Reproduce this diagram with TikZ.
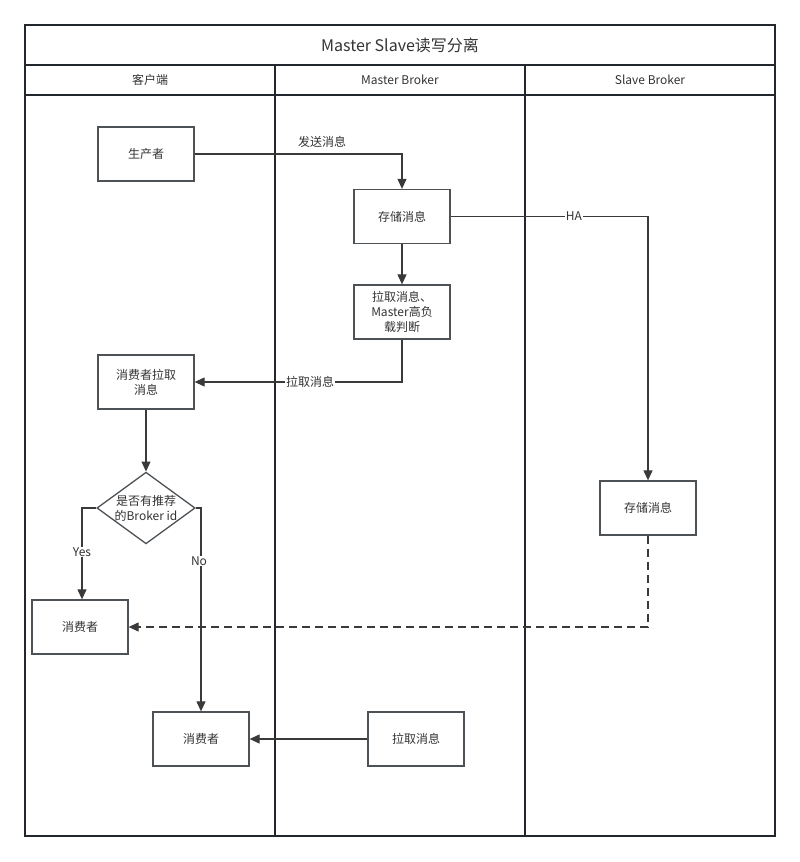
\documentclass[tikz,border=0pt]{standalone}
\usepackage{fontspec}
\setmainfont{Noto Sans CJK SC}
\usetikzlibrary{arrows.meta,shapes.geometric}
\definecolor{lane}{HTML}{22272E}
\definecolor{boxc}{HTML}{4D5257}
\definecolor{linec}{HTML}{3A3A3A}
\definecolor{txt}{HTML}{333333}
\begin{document}
\begin{tikzpicture}[x=1pt,y=-1pt,
  lanes/.style={draw=lane,line width=1.6pt},
  box/.style={draw=boxc,line width=1.3pt,minimum width=96pt,minimum height=54pt,inner sep=2pt,align=center,text=txt,font=\fontsize{12}{15}\selectfont},
  dec/.style={draw=boxc,line width=1.3pt,diamond,minimum width=96pt,minimum height=70pt,aspect=1.37,inner sep=0pt,align=center,text=txt,font=\fontsize{12}{15}\selectfont},
  conn/.style={draw=linec,line width=1.1pt,-{Triangle[length=10pt,width=9pt]}},
  lbl/.style={fill=white,inner sep=1pt,text=txt,font=\fontsize{12}{15}\selectfont},
  hdr/.style={text=txt,font=\fontsize{12}{15}\selectfont}]
\useasboundingbox (0,0) rectangle (800,862);
% swimlane frame
\draw[lanes] (25,25) rectangle (775,836);
\draw[lanes] (25,65) -- (775,65);
\draw[lanes] (25,95) -- (775,95);
\draw[lanes] (275,65) -- (275,836);
\draw[lanes] (525,65) -- (525,836);
\node[text=txt,font=\fontsize{16}{19}\selectfont] (title) at (400,45) {Master Slave读写分离};
\node[hdr] (h1) at (150,80) {客户端};
\node[hdr] (h2) at (400,80) {Master Broker};
\node[hdr] (h3) at (650,80) {Slave Broker};
% nodes
\node[box] (prod) at (146,154) {生产者};
\node[box] (store) at (402,216.5) {存储消息};
\node[box] (pullj) at (402,312) {拉取消息、\\Master高负\\载判断};
\node[box] (cpull) at (146,382) {消费者拉取\\消息};
\node[dec] (dq) at (146,508) {是否有推荐\\的Broker id};
\node[box] (c1) at (80,627) {消费者};
\node[box] (c2) at (201,739) {消费者};
\node[box] (mpull) at (416,739) {拉取消息};
\node[box] (sstore) at (648,508) {存储消息};
% connectors
\draw[conn] (prod.east) -| (store.north);
\node[lbl,fill=none] (l1) at (322,142) {发送消息};
\draw[conn] (store) -- (pullj);
\draw[conn] (store.east) -| (sstore.north);
\node[lbl] (l2) at (574,216.5) {HA};
\draw[conn] (pullj.south) |- (cpull.east);
\node[lbl] (l3) at (310,382) {拉取消息};
\draw[conn] (cpull) -- (dq);
\coordinate (ycor) at (82,508);
\coordinate (ncor) at (201,508);
\draw[conn] (dq.west) -- (ycor) -- (ycor |- c1.north);
\node[lbl] (l4) at (82,552) {Yes};
\draw[conn] (dq.east) -- (ncor) -- (c2.north);
\node[lbl] (l5) at (199,561) {No};
\draw[conn,dashed,dash pattern=on 8pt off 5pt] (sstore.south) |- (c1.east);
\draw[conn] (mpull.west) -- (c2.east);
\end{tikzpicture}
\end{document}
